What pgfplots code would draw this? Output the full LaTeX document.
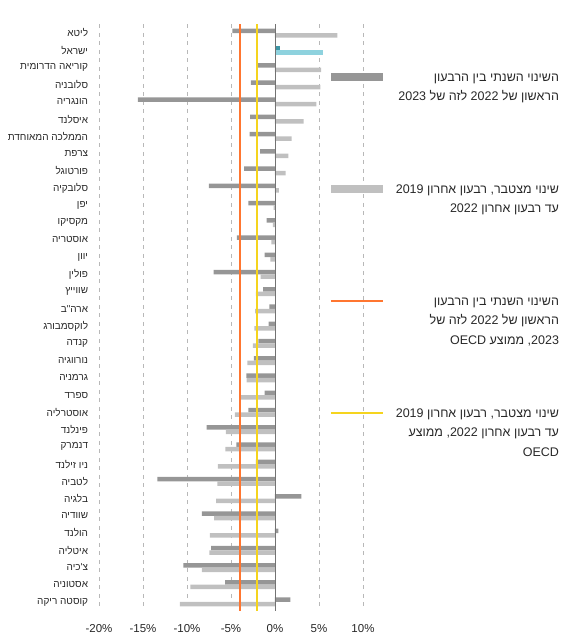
\documentclass[border=0pt]{standalone}
\usepackage{fontspec}
\usepackage{pgfplots}
\usepackage{pgfplotstable}
\pgfplotsset{compat=1.18}
\setmainfont{Liberation Sans}
\newfontfamily\hebfont[Script=Hebrew]{Liberation Sans}
\TeXXeTstate=1
\definecolor{darkbar}{RGB}{150,150,150}
\definecolor{lightbar}{RGB}{192,192,192}
\definecolor{isrdark}{RGB}{62,150,165}
\definecolor{isrlight}{RGB}{142,210,222}
\definecolor{oecdorange}{RGB}{255,118,48}
\definecolor{oecdyellow}{RGB}{245,212,30}
\definecolor{txt}{RGB}{40,40,40}

% y = row index (0 = top); a = annual change Q1 2022 -> Q1 2023; b = cumulative change Q4 2019 -> Q4 2022
\pgfplotstableread{
y a b
0 -4.85 7.10
2 -2.12 5.23
3 -2.73 5.15
4 -15.57 4.70
5 -2.84 3.26
6 -2.88 1.89
7 -1.70 1.52
8 -3.52 1.21
9 -7.50 0.45
10 -3.03 -0.15
11 -0.95 -0.23
12 -4.32 -0.42
13 -1.17 -0.53
14 -6.97 -1.63
15 -1.36 -2.16
16 -0.64 -2.27
17 -0.72 -2.35
18 -1.89 -2.50
19 -2.39 -3.14
20 -3.26 -3.22
21 -1.17 -3.94
22 -3.03 -4.55
23 -7.77 -5.57
24 -4.39 -5.64
25 -2.16 -6.48
26 -13.37 -6.55
27 2.99 -6.70
28 -8.30 -6.93
29 0.38 -7.39
30 -7.27 -7.46
31 -10.42 -8.30
32 -5.68 -9.62
33 1.74 -10.80
}\datagrey
\pgfplotstableread{
y a b
1 0.60 5.40
}\dataisr

\begin{document}
\begin{tikzpicture}[x=1pt,y=1pt]
\path[use as bounding box] (0,0) rectangle (562,635);
\begin{axis}[
  at={(94.6pt,24.4pt)}, anchor=south west,
  scale only axis, width=272.8pt, height=586.2pt,
  xmin=-20.5, xmax=10.5, ymin=-0.5, ymax=33.5, y dir=reverse,
  axis line style={draw=none}, major tick length=0pt,
  xtick={-20,-15,-10,-5,0,5,10},
  xticklabels={-20\%,-15\%,-10\%,-5\%,0\%,5\%,10\%},
  xticklabel style={font=\fontsize{11.5}{13}\selectfont, text=txt, yshift=-10pt},
  xmajorgrids, ymajorgrids=false,
  grid style={dash pattern=on 4pt off 4.5pt, black!28, line width=0.8pt},
  ytick={0,...,33},
  yticklabels={
    {\beginR ליטא\endR},
    {\beginR ישראל\endR},
    {\beginR קוריאה הדרומית\endR},
    {\beginR סלובניה\endR},
    {\beginR הונגריה\endR},
    {\beginR איסלנד\endR},
    {\beginR הממלכה המאוחדת\endR},
    {\beginR צרפת\endR},
    {\beginR פורטוגל\endR},
    {\beginR סלובקיה\endR},
    {\beginR יפן\endR},
    {\beginR מקסיקו\endR},
    {\beginR אוסטריה\endR},
    {\beginR יוון\endR},
    {\beginR פולין\endR},
    {\beginR שווייץ\endR},
    {\beginR ארה"ב\endR},
    {\beginR לוקסמבורג\endR},
    {\beginR קנדה\endR},
    {\beginR נורווגיה\endR},
    {\beginR גרמניה\endR},
    {\beginR ספרד\endR},
    {\beginR אוסטרליה\endR},
    {\beginR פינלנד\endR},
    {\beginR דנמרק\endR},
    {\beginR ניו זילנד\endR},
    {\beginR לטביה\endR},
    {\beginR בלגיה\endR},
    {\beginR שוודיה\endR},
    {\beginR הולנד\endR},
    {\beginR איטליה\endR},
    {\beginR צ'כיה\endR},
    {\beginR אסטוניה\endR},
    {\beginR קוסטה ריקה\endR}},
  yticklabel style={font=\hebfont\fontsize{10}{12}\selectfont, text=txt, xshift=-3pt},
  legend cell align=left,
  legend style={at={(axis description cs:0.8629,0.9188)}, anchor=north west, draw=none, fill=none,
    inner sep=0pt, outer sep=0pt, row sep=101.6pt, column sep=6pt,
    nodes={inner sep=0pt, anchor=base west}, cells={anchor=base west},
    font=\hebfont\fontsize{12.5}{19.5}\selectfont, text=txt},
]
\addplot[xbar, bar width=4.5pt, bar shift=2.25pt, fill=darkbar, draw=none,
  legend image code/.code={\fill[darkbar] (0pt,0pt) rectangle (52pt,8.5pt);}]
  table[x=a, y=y] {\datagrey};
\addlegendentry{\parbox[t]{169pt}{\raggedleft\rule{0pt}{9pt}{\hebfont\beginR השינוי השנתי בין הרבעון\endR}\\{\hebfont\beginR הראשון של 2022 לזה של 2023\endR}}}
\addplot[xbar, bar width=4.5pt, bar shift=-2.25pt, fill=lightbar, draw=none,
  legend image code/.code={\fill[lightbar] (0pt,0pt) rectangle (52pt,8.5pt);}]
  table[x=b, y=y] {\datagrey};
\addlegendentry{\parbox[t]{169pt}{\raggedleft\rule{0pt}{9pt}{\hebfont\beginR שינוי מצטבר\kern0pt, רבעון אחרון 2019\endR}\\{\hebfont\beginR עד רבעון אחרון 2022\endR}}}
\addplot[forget plot, xbar, bar width=4.5pt, bar shift=2.25pt, fill=isrdark, draw=none]
  table[x=a, y=y] {\dataisr};
\addplot[forget plot, xbar, bar width=4.5pt, bar shift=-2.25pt, fill=isrlight, draw=none]
  table[x=b, y=y] {\dataisr};
\addplot[oecdorange, line width=2pt,
  legend image code/.code={\draw[oecdorange, line width=2pt] (0pt,4.2pt) -- (52pt,4.2pt);}]
  coordinates {(-4,-0.5) (-4,33.5)};
\addlegendentry{\parbox[t]{169pt}{\raggedleft\rule{0pt}{9pt}{\hebfont\beginR השינוי השנתי בין הרבעון\endR}\\{\hebfont\beginR הראשון של 2022 לזה של\endR}\\{\hebfont\beginR 2023\kern0pt, ממוצע OECD\endR}}}
\addplot[oecdyellow, line width=2pt,
  legend image code/.code={\draw[oecdyellow, line width=2pt] (0pt,4.2pt) -- (52pt,4.2pt);}]
  coordinates {(-2,-0.5) (-2,33.5)};
\addlegendentry{\parbox[t]{169pt}{\raggedleft\rule{0pt}{9pt}{\hebfont\beginR שינוי מצטבר\kern0pt, רבעון אחרון 2019\endR}\\{\hebfont\beginR עד רבעון אחרון 2022\kern0pt, ממוצע\endR}\\{\hebfont\beginR OECD\endR}}}
\draw[black!55, line width=0.9pt] (axis cs:0,-0.5) -- (axis cs:0,33.5);
\node[anchor=south, inner sep=0pt, yshift=4pt, font=\fontsize{11.5}{13}\selectfont, text=txt] at (axis cs:-6,-0.5) {-4\%};
\node[anchor=south, inner sep=0pt, yshift=4pt, font=\fontsize{11.5}{13}\selectfont, text=txt] at (axis cs:-0.57,-0.5) {-2\%};
\end{axis}
\end{tikzpicture}
\end{document}
